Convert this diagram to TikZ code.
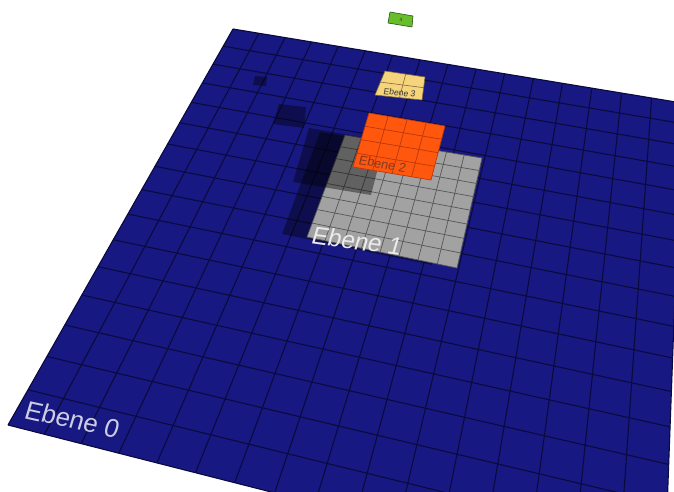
\documentclass[tikz,border=0pt]{standalone}
\usepackage{fontspec}
\setsansfont{Liberation Sans}
\usepackage{xcolor}

% Farben der Ebenen
\definecolor{blau}{RGB}{24,24,130}
\definecolor{blaulinie}{RGB}{10,10,62}
\definecolor{grau}{RGB}{162,162,162}
\definecolor{graulinie}{RGB}{86,86,86}
\definecolor{orange}{RGB}{255,88,14}
\definecolor{orangelinie}{RGB}{186,56,10}
\definecolor{gelb}{RGB}{246,212,124}
\definecolor{gelblinie}{RGB}{128,104,60}
\definecolor{gruen}{RGB}{104,190,42}
\definecolor{gruenlinie}{RGB}{38,86,20}

% Viereck: P0 vorne links, P1 vorne rechts, P2 hinten rechts, P3 hinten links
\newcommand{\setzeviereck}[8]{%
  \pgfmathsetmacro{\hSx}{#1-#3+#5-#7}%
  \pgfmathsetmacro{\hSy}{#2-#4+#6-#8}%
  \pgfmathsetmacro{\hDxa}{#3-#5}%
  \pgfmathsetmacro{\hDxb}{#7-#5}%
  \pgfmathsetmacro{\hDya}{#4-#6}%
  \pgfmathsetmacro{\hDyb}{#8-#6}%
  \pgfmathsetmacro{\hDen}{\hDxa*\hDyb-\hDxb*\hDya}%
  \pgfmathsetmacro{\hG}{(\hSx*\hDyb-\hDxb*\hSy)/\hDen}%
  \pgfmathsetmacro{\hH}{(\hDxa*\hSy-\hSx*\hDya)/\hDen}%
  \pgfmathsetmacro{\hA}{#3-#1+\hG*#3}%
  \pgfmathsetmacro{\hB}{#7-#1+\hH*#7}%
  \pgfmathsetmacro{\hC}{#1}%
  \pgfmathsetmacro{\hD}{#4-#2+\hG*#4}%
  \pgfmathsetmacro{\hE}{#8-#2+\hH*#8}%
  \pgfmathsetmacro{\hF}{#2}%
}
% Punkt (u,v) im Viereck
\newcommand{\hpunkt}[3]{%
  \pgfmathsetmacro{\hW}{\hG*#2+\hH*#3+1}%
  \pgfmathsetmacro{\hX}{(\hA*#2+\hB*#3+\hC)/\hW}%
  \pgfmathsetmacro{\hY}{(\hD*#2+\hE*#3+\hF)/\hW}%
  \coordinate (#1) at (\hX,\hY);%
}
% Gitter mit n x n Feldern
\newcommand{\gitter}[4]{%
  \foreach \k in {0,...,#2}{%
    \pgfmathsetmacro{\anteil}{\k/#2}%
    \hpunkt{#1-s\k}{\anteil}{0}%
    \hpunkt{#1-n\k}{\anteil}{1}%
    \hpunkt{#1-w\k}{0}{\anteil}%
    \hpunkt{#1-o\k}{1}{\anteil}%
  }%
  \fill[#3] (#1-s0) -- (#1-s#2) -- (#1-n#2) -- (#1-n0) -- cycle;%
  \foreach \k in {0,...,#2}{%
    \draw[#4] (#1-s\k) -- (#1-n\k);%
    \draw[#4] (#1-w\k) -- (#1-o\k);%
  }%
}

\tikzset{
  schatten/.style={fill=black, fill opacity=0.4},
  ebenetext/.style={inner sep=0pt, anchor=base west},
}

\begin{document}
\begin{tikzpicture}[x=100pt, y=-100pt]
  \useasboundingbox (0,0) rectangle (6.74,4.91);
  \clip (0,0) rectangle (6.74,4.91);

  % Ebene 0
  \setzeviereck{0.08}{4.25}{6.64}{5.92}{6.82}{1.03}{2.33}{0.29}
  \gitter{e0}{16}{blau}{draw=blaulinie, line width=1.1pt}

  % Schatten auf Ebene 0
  \fill[schatten] (2.82,2.34) -- (4.32,2.65) -- (4.57,1.55) -- (3.20,1.32) -- cycle;
  \fill[schatten] (2.73,1.24) -- (3.04,1.28) -- (3.06,1.07) -- (2.79,1.04) -- cycle;
  \fill[schatten] (2.53,0.85) -- (2.66,0.86) -- (2.67,0.77) -- (2.55,0.76) -- cycle;

  % Ebene 1
  \setzeviereck{3.07}{2.37}{4.57}{2.68}{4.82}{1.58}{3.45}{1.35}
  \gitter{e1}{8}{grau}{draw=graulinie, line width=0.7pt}

  % Schatten von Ebene 2
  \fill[schatten] (2.93,1.82) -- (3.71,1.95) -- (3.85,1.41) -- (3.09,1.28) -- cycle;

  % Ebene 2
  \setzeviereck{3.53}{1.67}{4.31}{1.80}{4.45}{1.26}{3.69}{1.13}
  \gitter{e2}{4}{orange}{draw=orangelinie, line width=0.7pt}

  % Ebene 3
  \setzeviereck{3.75}{0.95}{4.22}{1.00}{4.25}{0.77}{3.85}{0.71}
  \gitter{e3}{2}{gelb}{draw=gelblinie, line width=0.6pt}

  % Ebene 4
  \setzeviereck{3.88}{0.23}{4.12}{0.27}{4.13}{0.16}{3.90}{0.12}
  \gitter{e4}{1}{gruen}{draw=gruenlinie, line width=0.6pt}

  % Beschriftung
  \begin{scope}[shift={(0.23,4.18)}]
    \node[ebenetext, cm={1,-0.22,0.3,1,(0,0)},
      font=\sffamily\fontsize{25}{25}\selectfont,
      text={rgb,255:red,205;green,205;blue,228}] (t0) at (0,0) {Ebene 0};
  \end{scope}
  \begin{scope}[shift={(3.10,2.43)}]
    \node[ebenetext, cm={1,-0.14,0.3,1,(0,0)},
      font=\sffamily\fontsize{24}{24}\selectfont,
      text=white!78!grau] (t1) at (0,0) {Ebene 1};
  \end{scope}
  \begin{scope}[shift={(3.58,1.645)}]
    \node[ebenetext, cm={1,-0.17,0.25,1,(0,0)},
      font=\sffamily\fontsize{12.5}{12.5}\selectfont,
      text={rgb,255:red,128;green,58;blue,36}] (t2) at (0,0) {Ebene 2};
  \end{scope}
  \begin{scope}[shift={(3.83,0.94)}]
    \node[ebenetext, cm={1,-0.1,0.2,1,(0,0)},
      font=\sffamily\fontsize{8.5}{8.5}\selectfont,
      text=black!80] (t3) at (0,0) {Ebene 3};
  \end{scope}
  \node[inner sep=0pt, font=\sffamily\fontsize{5}{5}\selectfont,
    text=black!80] (t4) at (4.01,0.195) {4};
\end{tikzpicture}
\end{document}
